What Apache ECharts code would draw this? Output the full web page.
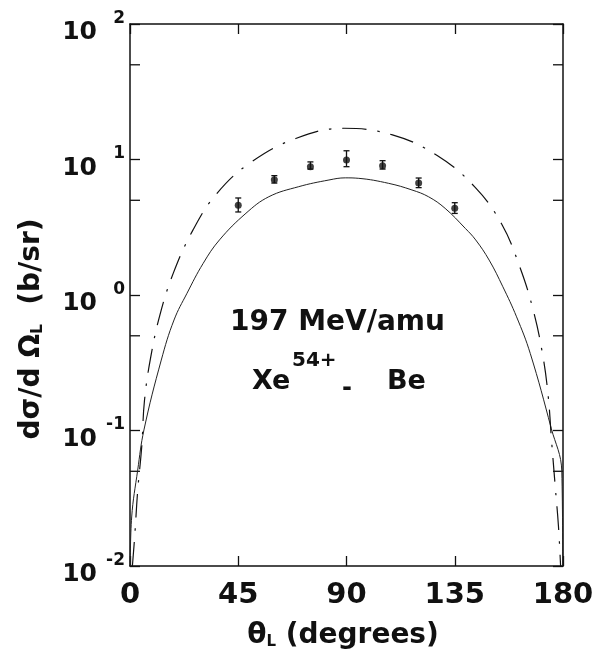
<!DOCTYPE html>
<html><head><meta charset="utf-8">
<script src="https://cdn.jsdelivr.net/npm/echarts@6/dist/echarts.min.js"></script>
<style>html,body{margin:0;padding:0;background:#fff}#c{width:600px;height:664px}</style>
</head><body><div id="c"></div>
<script>
// ---- data ----
const xTickValues = [0, 45, 90, 135, 180];
const yMinorTicks = [0.05, 0.5, 5, 50];

const dataAngles = [45, 60, 75, 90, 105, 120, 135];
const dataValues = [4.6, 7.1, 8.85, 9.9, 9.0, 6.7, 4.36];
const errLow     = [4.1, 6.7, 8.5, 8.85, 8.5, 6.2, 4.0];
const errHigh    = [5.2, 7.6, 9.6, 11.6, 9.8, 7.3, 4.8];

const solidX = [0.1, 0.7, 3.2, 5.8, 13.0, 18.3, 23.7, 30.4, 37.2, 48.2, 57.7, 70.1, 82.7, 89.5, 95.1, 107.5, 117.2, 124.1, 131.0, 139.4, 143.7, 149.3, 155.0, 160.7, 166.4, 175.1, 179.5, 179.9];
const solidY = [0.01, 0.023, 0.051, 0.101, 0.331, 0.654, 1.03, 1.71, 2.55, 4.01, 5.31, 6.3, 7.06, 7.32, 7.26, 6.67, 5.96, 5.31, 4.36, 3.1, 2.55, 1.81, 1.15, 0.69, 0.37, 0.104, 0.05, 0.01];

const dashX = [1.0, 2.0, 3.2, 4.9, 6.0, 8.5, 12.5, 18.0, 26.1, 36.0, 50.0, 68.9, 88.8, 109.1, 127.7, 143.5, 154.5, 162.1, 167.6, 171.5, 173.8, 175.2, 176.7, 178.1, 179.0];
const dashY = [0.01, 0.017, 0.036, 0.077, 0.165, 0.339, 0.72, 1.45, 3.0, 5.59, 9.47, 14.3, 17.0, 15.2, 10.7, 6.23, 3.34, 1.6, 0.775, 0.367, 0.183, 0.086, 0.040, 0.0198, 0.01];

const energyLabel = '197 MeV/amu';
const projectile = 'Xe';
const chargeState = '54+';
const target = 'Be';

// ---- chart ----
const FONT = '"DejaVu Sans", "Liberation Sans", sans-serif';
const INK = '#111';
const chart = echarts.init(document.getElementById('c'), null, {renderer: 'canvas'});

const tickStyle = {show: true, inside: true, length: 10, lineStyle: {color: INK, width: 1.3}};
const lineAx = {show: true, onZero: false, lineStyle: {color: INK, width: 1.5}};

chart.setOption({
  animation: false,
  backgroundColor: '#fff',
  grid: {left: 130, top: 24, width: 433, height: 542, containLabel: false},
  xAxis: [
    {type: 'value', min: 0, max: 180, interval: 45, position: 'bottom',
     axisLine: lineAx, axisTick: tickStyle, splitLine: {show: false},
     axisLabel: {show: true, margin: 15, color: INK, fontFamily: FONT, fontWeight: 'bold', fontSize: 29,
       formatter: v => String(v)}},
    {type: 'value', min: 0, max: 180, interval: 45, position: 'top',
     axisLine: lineAx, axisTick: tickStyle, splitLine: {show: false}, axisLabel: {show: false}}
  ],
  yAxis: [
    {type: 'log', logBase: 10, min: 0.01, max: 100, position: 'left',
     axisLine: lineAx, axisTick: tickStyle, splitLine: {show: false}, minorTick: {show: false},
     axisLabel: {show: true, margin: 33, verticalAlign: 'top', lineHeight: 17, color: INK,
       fontFamily: FONT, fontWeight: 'bold', fontSize: 25, formatter: () => '10'}},
    {type: 'log', logBase: 10, min: 0.01, max: 100, position: 'left',
     axisLine: {show: false}, axisTick: {show: false}, splitLine: {show: false},
     axisLabel: {show: true, margin: 5, verticalAlign: 'bottom', lineHeight: 11, color: INK,
       fontFamily: FONT, fontWeight: 'bold', fontSize: 17,
       formatter: v => String(Math.round(Math.log10(v)))}},
    {type: 'log', logBase: 10, min: 0.01, max: 100, position: 'right',
     axisLine: lineAx, axisTick: tickStyle, splitLine: {show: false}, axisLabel: {show: false}}
  ],
  series: [
    {type: 'line', name: 'solid', data: solidX.map((x, i) => [x, solidY[i]]),
     smooth: 0.4, showSymbol: false, symbol: 'none', clip: true,
     lineStyle: {color: '#222', width: 1}},
    {type: 'line', name: 'dashdot', data: dashX.map((x, i) => [x, dashY[i]]),
     smooth: 0.4, showSymbol: false, symbol: 'none', clip: true,
     lineStyle: {color: '#111', width: 1.2, type: [24, 11, 2.5, 11]}},
    {type: 'custom', name: 'errors', data: dataAngles.map((a, i) => [a, errLow[i], errHigh[i]]),
     renderItem: (params, api) => {
       const x = api.value(0);
       const lo = api.coord([x, api.value(1)]);
       const hi = api.coord([x, api.value(2)]);
       const c = 3, st = {stroke: INK, lineWidth: 1.3};
       return {type: 'group', children: [
         {type: 'line', shape: {x1: lo[0], y1: lo[1], x2: hi[0], y2: hi[1]}, style: st},
         {type: 'line', shape: {x1: lo[0] - c, y1: lo[1], x2: lo[0] + c, y2: lo[1]}, style: st},
         {type: 'line', shape: {x1: hi[0] - c, y1: hi[1], x2: hi[0] + c, y2: hi[1]}, style: st}
       ]};
     }, z: 3},
    {type: 'scatter', name: 'data', data: dataAngles.map((a, i) => [a, dataValues[i]]),
     symbol: 'circle', symbolSize: 7, itemStyle: {color: INK}, z: 4},
    {type: 'custom', name: 'minorTicks', data: yMinorTicks.map(v => [0, v]), silent: true,
     renderItem: (params, api) => {
       const l = api.coord([0, api.value(1)]);
       const r = api.coord([180, api.value(1)]);
       const st = {stroke: INK, lineWidth: 1.3};
       return {type: 'group', children: [
         {type: 'line', shape: {x1: l[0], y1: l[1], x2: l[0] + 10, y2: l[1]}, style: st},
         {type: 'line', shape: {x1: r[0] - 10, y1: r[1], x2: r[0], y2: r[1]}, style: st}
       ]};
     }}
  ],
  graphic: [
    {type: 'text', x: 230, y: 323, style: {text: energyLabel, font: 'bold 28px ' + FONT, fill: INK, align: 'left', verticalAlign: 'middle'}},
    {type: 'text', x: 252, y: 382, style: {text: projectile, font: 'bold 27px ' + FONT, fill: INK, align: 'left', verticalAlign: 'middle'}},
    {type: 'text', x: 292, y: 361, style: {text: chargeState, font: 'bold 20px ' + FONT, fill: INK, align: 'left', verticalAlign: 'middle'}},
    {type: 'text', x: 342, y: 389, style: {text: '-', font: 'bold 24px ' + FONT, fill: INK, align: 'left', verticalAlign: 'middle'}},
    {type: 'text', x: 387, y: 382, style: {text: target, font: 'bold 27px ' + FONT, fill: INK, align: 'left', verticalAlign: 'middle'}},
    {type: 'text', x: 31, y: 329, rotation: Math.PI / 2,
     style: {text: '{a|dσ/d Ω}{s|L}{a|  (b/sr)}', align: 'center', verticalAlign: 'middle',
       rich: {a: {font: 'bold 28px ' + FONT, fill: INK, lineHeight: 30, verticalAlign: 'bottom'},
              s: {font: 'bold 15px ' + FONT, fill: INK, lineHeight: 15, verticalAlign: 'bottom'}}}},
    {type: 'text', x: 343, y: 635,
     style: {text: '{a|θ}{s|L}{a| (degrees)}', align: 'center', verticalAlign: 'middle',
       rich: {a: {font: 'bold 28px ' + FONT, fill: INK, lineHeight: 30, verticalAlign: 'bottom'},
              s: {font: 'bold 15px ' + FONT, fill: INK, lineHeight: 15, verticalAlign: 'bottom'}}}}
  ]
});
</script></body></html>
